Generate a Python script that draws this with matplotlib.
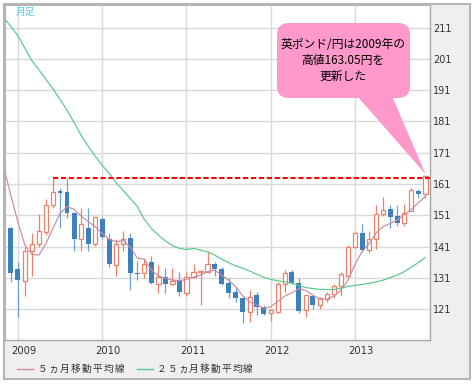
#%% import tools and libraries
import numpy as np
import matplotlib
matplotlib.use('Agg')
import matplotlib.pyplot as plt
import matplotlib.transforms as mtransforms
from matplotlib.patches import Rectangle, FancyBboxPatch, Polygon
from matplotlib.lines import Line2D

#%% data (monthly GBP/JPY candles, Dec 2008 - Nov 2013)
years = ['2009', '2010', '2011', '2012', '2013']
year_pos = [1, 13, 25, 37, 49]   # index of January candle

opens = [146.8, 133.9, 130.0, 139.6, 141.7, 145.8, 154.3, 158.8, 158.3, 151.6,
         143.4, 147.1, 141.8, 149.8, 143.4, 135.1, 141.8, 143.9, 132.6, 132.5,
         136.0, 129.0, 131.2, 128.9, 130.3, 126.2, 131.2, 132.8, 132.8, 135.5,
         133.8, 129.3, 126.6, 124.7, 120.2, 125.5, 121.8, 119.9, 120.2, 128.9,
         133.0, 129.3, 120.7, 125.2, 122.3, 124.3, 125.7, 128.5, 131.7, 141.0,
         145.5, 139.9, 143.3, 151.3, 152.9, 150.9, 148.6, 152.5, 158.9, 157.8]
highs = [147.4, 136.2, 141.0, 145.2, 151.5, 156.1, 163.05, 159.8, 162.8, 151.9,
         153.2, 153.2, 150.6, 150.6, 145.2, 143.4, 146.1, 145.2, 136.5, 137.2,
         138.1, 135.1, 134.1, 134.1, 132.8, 132.8, 135.6, 133.5, 139.6, 136.0,
         134.6, 130.9, 128.2, 124.9, 127.1, 126.6, 122.3, 121.0, 129.8, 133.5,
         133.5, 130.9, 125.5, 125.4, 125.0, 126.6, 128.9, 133.0, 141.5, 145.8,
         148.1, 146.0, 154.3, 156.9, 154.3, 154.2, 154.5, 159.8, 159.4, 164.0]
lows = [129.8, 118.6, 125.2, 131.6, 141.0, 144.7, 153.2, 146.8, 150.0, 139.5,
        139.6, 139.6, 141.2, 143.4, 134.6, 131.7, 139.6, 127.0, 130.3, 130.9,
        128.9, 126.1, 126.1, 128.7, 125.3, 125.3, 130.9, 122.3, 132.8, 131.5,
        128.7, 124.7, 123.2, 116.5, 117.0, 119.2, 119.2, 117.2, 119.7, 126.6,
        128.9, 119.9, 118.4, 121.0, 121.0, 123.4, 124.5, 125.2, 131.2, 140.4,
        139.4, 138.9, 140.1, 150.8, 146.9, 147.6, 147.6, 152.4, 156.4, 156.4]
closes = [132.6, 130.3, 139.6, 141.7, 146.0, 154.3, 158.5, 158.1, 151.6, 143.4,
          148.1, 141.8, 150.3, 144.2, 135.4, 141.7, 143.4, 132.6, 132.1, 135.4,
          129.3, 131.2, 128.9, 130.1, 126.4, 131.2, 132.8, 133.1, 135.4, 133.8,
          129.0, 126.1, 124.5, 120.2, 124.8, 121.8, 119.5, 120.9, 129.1, 132.7,
          129.5, 120.5, 125.5, 122.3, 124.5, 125.7, 128.5, 132.1, 141.0, 145.5,
          139.9, 143.3, 151.3, 152.7, 150.6, 148.4, 151.8, 159.1, 157.8, 163.6]

# moving averages, Nov 2008 - Nov 2013
ma5 = [166.4,
       157.4, 148.9, 141.5, 138.5, 138.3, 142.0, 146.8, 151.6, 153.8, 152.9,
       150.8, 149.0, 147.4, 145.2, 143.3, 142.6, 142.9, 140.8, 137.3, 137.0,
       133.5, 131.6, 130.9, 130.3, 130.1, 130.5, 131.2, 131.9, 133.0, 133.5,
       131.9, 130.3, 128.2, 125.3, 123.4, 122.4, 121.3, 121.8, 123.5, 125.2,
       126.3, 127.6, 126.9, 125.5, 124.2, 124.2, 125.2, 127.1, 130.3, 135.4,
       139.4, 142.0, 145.4, 147.4, 148.4, 149.5, 151.1, 152.9, 155.0, 157.0]
ma25 = [214.0,
        211.4, 208.4, 204.4, 200.4, 197.5, 194.4, 191.4, 188.0, 184.6, 180.6,
        176.6, 173.1, 169.9, 167.0, 164.4, 161.4, 158.9, 156.4, 153.8, 149.7,
        146.8, 144.7, 142.8, 141.3, 140.4, 140.1, 140.4, 139.9, 139.3, 138.3,
        137.0, 135.9, 134.8, 134.1, 133.2, 132.2, 131.2, 130.5, 130.1, 129.7,
        129.3, 128.5, 127.9, 127.6, 127.3, 127.3, 127.3, 127.7, 128.3, 128.6,
        128.9, 129.3, 129.7, 130.3, 131.1, 131.9, 133.0, 134.4, 135.9, 137.5]

high_2009 = 163.05
high_2009_pos = 6

#%% colours and fonts
up_col = '#e8826b'
down_col = '#3c80bd'
down_wick = '#6aa2d4'
ma5_col = '#c98aa5'
ma25_col = '#55c98a'
jp = ['Noto Sans CJK JP', 'DejaVu Sans']
W, H = 474, 387

#%% figure frame
fig = plt.figure(figsize=(W / 100, H / 100), dpi=100)
pix = mtransforms.Affine2D().scale(1 / 100, -1 / 100).translate(0, H / 100) + fig.dpi_scale_trans

fig.add_artist(Rectangle((3.5, 3.5), 466, 375.5, transform=pix,
                         facecolor='#efefef', edgecolor='#b5b5b5', lw=1.5, zorder=-5))

ax = fig.add_axes([4.5 / W, 1 - 340 / H, (430 - 4.5) / W, (340 - 4.5) / H])
ax.set_facecolor('white')

#%% candles
x = np.arange(len(opens))
o = np.array(opens); c = np.array(closes); hi = np.array(highs); lo = np.array(lows)
up = c >= o
dn = ~up

ax.vlines(x[dn], lo[dn], hi[dn], color=down_wick, lw=0.9, zorder=2)
ax.bar(x[dn], o[dn] - c[dn], bottom=c[dn], width=0.7, color=down_col, lw=0, zorder=3)

ax.vlines(x[up], np.maximum(o[up], c[up]), hi[up], color=up_col, lw=0.9, zorder=2)
ax.vlines(x[up], lo[up], np.minimum(o[up], c[up]), color=up_col, lw=0.9, zorder=2)
ax.bar(x[up], c[up] - o[up], bottom=o[up], width=0.62, color='white',
       edgecolor=up_col, lw=0.9, zorder=3)

#%% moving averages
xm = np.arange(-1, len(opens))
ax.plot(xm, ma25, color=ma25_col, lw=0.85, zorder=4)
ax.plot(xm, ma5, color=ma5_col, lw=0.85, zorder=4)

#%% 2009 high line
ax.hlines(high_2009, high_2009_pos, 59.66, color='#ff0000', lw=1.5,
          linestyles=(0, (2.5, 1.3)), zorder=5)

#%% axes styling
ax.set_xlim(-0.9, 59.66)
ax.set_ylim(111.16, 218.35)
ax.set_yticks(np.arange(121, 212, 10))
ax.set_xticks(year_pos)
ax.set_xticklabels(years)
ax.grid(color='#d9d9d9', lw=1)
ax.set_axisbelow(True)
ax.tick_params(axis='y', length=0, pad=2, labelsize=7, labelcolor='#333333',
               left=False, right=True, labelleft=False, labelright=True)
ax.tick_params(axis='x', length=0, pad=4, labelsize=7.2, labelcolor='#333333')
for lbl in ax.get_xticklabels():
    lbl.set_transform(lbl.get_transform() + mtransforms.ScaledTranslation(6 / 100, 0, fig.dpi_scale_trans))
for side in ['left', 'top']:
    ax.spines[side].set_color('#b5b5b5')
    ax.spines[side].set_linewidth(1.5)
for side in ['right', 'bottom']:
    ax.spines[side].set_color('#a6a6a6')
    ax.spines[side].set_linewidth(1)

fig.text(25.5, 12, '月足', transform=pix, ha='center', va='center',
         fontsize=7, color='#5cc8f2', family=jp)

#%% callout
fig.add_artist(Polygon([(357, 96), (392, 96), (425.5, 174)], closed=True,
                       transform=pix, facecolor='#ff99cc', edgecolor='none', zorder=6))
fig.add_artist(FancyBboxPatch((277, 23), 133, 75, boxstyle='round,pad=0,rounding_size=12',
                              transform=pix, facecolor='#ff99cc', edgecolor='none', zorder=6))
for txt, ty in [('英ポンド/円は2009年の', 44), ('高値163.05円を', 60.5), ('更新した', 76)]:
    fig.text(343, ty, txt, transform=pix, ha='center', va='center',
             fontsize=8.5, color='black', family=jp, zorder=7)

#%% legend (letter-spaced like the original)
def spaced_text(x0, y, s, step):
    for k, ch in enumerate(s):
        fig.text(x0 + k * step, y, ch, transform=pix, ha='center', va='center',
                 fontsize=7, color='#333333', family=jp)

fig.add_artist(Line2D([17, 33], [369, 369], transform=pix, color=ma5_col, lw=1))
spaced_text(42.5, 369, '５ヵ月移動平均線', 11.0)
fig.add_artist(Line2D([137, 153], [369, 369], transform=pix, color=ma25_col, lw=1))
spaced_text(161.5, 369, '２５ヵ月移動平均線', 10.8)

fig.savefig('out.png', dpi=100)
